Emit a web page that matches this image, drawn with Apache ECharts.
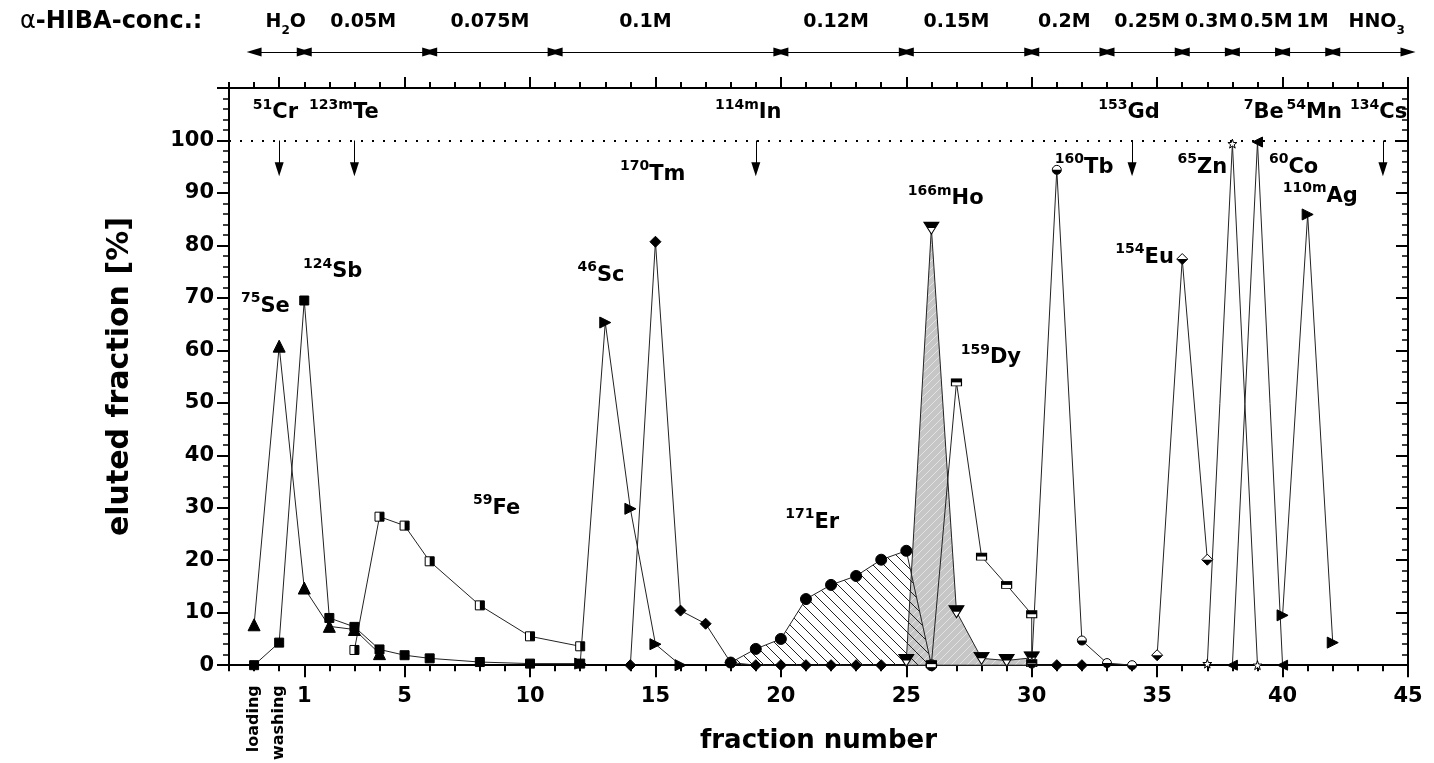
<!DOCTYPE html>
<html>
<head>
<meta charset="utf-8">
<title>alpha-HIBA elution</title>
<script src="https://cdn.jsdelivr.net/npm/echarts@6/dist/echarts.min.js"></script>
<style>
  html, body { margin: 0; padding: 0; background: #fff; }
  #chart { width: 1434px; height: 763px; }
</style>
</head>
<body>
<div id="chart"></div>
<script>
// eluted fraction [%] per fraction number (-1 = loading, 0 = washing)
const se75   = [[-1, 7.7], [0, 60.8], [1, 14.7], [2, 7.4], [3, 6.8], [4, 2.2]];
const sb124  = [[-1, 0], [0, 4.3], [1, 69.5], [2, 9.0], [3, 7.3], [4, 3.0], [5, 1.9], [6, 1.3], [8, 0.6], [10, 0.3], [12, 0.3]];
const fe59   = [[3, 2.9], [4, 28.3], [5, 26.6], [6, 19.8], [8, 11.4], [10, 5.5], [12, 3.6]];
const sc46   = [[12, 0.3], [13, 65.3], [14, 29.8], [15, 4.0], [16, 0]];
const tm170  = [[14, 0], [15, 80.7], [16, 10.4], [17, 7.9], [18, 0.5], [19, 0], [20, 0], [21, 0], [22, 0], [23, 0], [24, 0], [31, 0], [32, 0]];
const er171  = [[18, 0.5], [19, 3.1], [20, 5.0], [21, 12.6], [22, 15.3], [23, 17.0], [24, 20.1], [25, 21.8], [26, 0]];
const ho166m = [[25, 0.9], [26, 83.3], [27, 10.2], [28, 1.3], [29, 0.9], [30, 1.4]];
const dy159  = [[26, 0.2], [27, 53.9], [28, 20.7], [29, 15.3], [30, 9.7], [30, 0.4]];
const tb160  = [[30, 0.3], [31, 94.4], [32, 4.7], [33, 0.4], [34, 0]];
const eu154  = [[35, 1.9], [36, 77.4], [37, 20.1]];
const zn65   = [[37, 0.3], [38, 99.4], [39, 0]];
const co60   = [[38, 0], [39, 99.7], [40, 0]];
const ag110m = [[40, 9.5], [41, 85.9], [42, 4.3]];

// isotope labels
const isoSup  = ['51', '123m', '114m', '153', '7', '54', '134', '170', '160', '65', '60', '166m', '110m', '124', '75', '46', '154', '159', '59', '171'];
const isoName = ['Cr', 'Te', 'In', 'Gd', 'Be', 'Mn', 'Cs', 'Tm', 'Tb', 'Zn', 'Co', 'Ho', 'Ag', 'Sb', 'Se', 'Sc', 'Eu', 'Dy', 'Fe', 'Er'];
const isoX    = [-0.15, 2.58, 18.7, 33.88, 39.25, 41.26, 43.83, 14.89, 32.09, 36.8, 40.44, 26.57, 41.5, 2.13, -0.55, 12.83, 34.5, 28.37, 8.67, 21.25];
const isoY    = [106, 106, 106, 106, 106, 106, 106, 94.3, 95.6, 95.6, 95.6, 89.6, 90.1, 75.7, 69.2, 75.1, 78.4, 59.3, 30.7, 27.9];
// 100 % in one fraction (arrows)
const fullX = [0, 3, 19, 34, 44];

// alpha-HIBA concentration steps
const concBounds = [-1, 1, 6, 11, 20, 25, 30, 33, 36, 38, 40, 42, 45];
const concLabels = ['H{s|2}O', '0.05M', '0.075M', '0.1M', '0.12M', '0.15M', '0.2M', '0.25M', '0.3M', '0.5M', '1M', 'HNO{s|3}'];
const concLabelX = [0.26, 3.35, 8.4, 14.6, 22.2, 27.0, 31.3, 34.6, 37.15, 39.35, 41.2, 43.75];

const bottomTicks = [1, 5, 10, 15, 20, 25, 30, 35, 40, 45];
const topTicks = [0, 5, 10, 15, 20, 25, 30, 35, 40, 45];

const FONT = 'DejaVu Sans';

function hatch(bg, stroke, size, dir) {
  const c = document.createElement('canvas');
  c.width = size; c.height = size;
  const g = c.getContext('2d');
  if (bg) { g.fillStyle = bg; g.fillRect(0, 0, size, size); }
  g.strokeStyle = stroke;
  g.lineWidth = 1;
  g.beginPath();
  if (dir === '\\') { g.moveTo(-1, -1); g.lineTo(size + 1, size + 1); }
  else { g.moveTo(-1, size + 1); g.lineTo(size + 1, -1); }
  g.stroke();
  return c;
}

function curve(data, symbol, size, fill, extra) {
  return Object.assign({
    type: 'line', data: data, symbol: symbol, symbolSize: size,
    lineStyle: { color: '#222', width: 1 },
    itemStyle: { color: fill, borderColor: '#000', borderWidth: 1 },
    z: 3
  }, extra || {});
}

// black half of a half-filled marker, drawn on top of the hollow one
function half(data, symbol, size, offset) {
  return {
    type: 'scatter', data: data, symbol: symbol, symbolSize: size, symbolOffset: offset,
    itemStyle: { color: '#000', opacity: 1 }, silent: true, z: 4
  };
}

const tickLine = { color: '#000', width: 2 };
const noBorder = { textBorderWidth: 0, textBorderColor: 'transparent', textShadowBlur: 0 };

const chart = echarts.init(document.getElementById('chart'));

const option = {
  animation: false,
  textStyle: { fontFamily: FONT },
  graphic: [{
    type: 'text', left: 20, top: 10,
    style: {
      text: '{a|α}{b|-HIBA-conc.:}',
      rich: {
        a: { fontSize: 24, fontFamily: FONT, fontWeight: 'normal', fill: '#000' },
        b: { fontSize: 24, fontFamily: FONT, fontWeight: 'bold', fill: '#000' }
      }
    }
  }],
  grid: [
    { left: 229, right: 26, top: 88, bottom: 92 },
    { left: 229, right: 26, top: 40, height: 24 }
  ],
  xAxis: [
    { // bottom, long ticks + numbers
      gridIndex: 0, type: 'value', position: 'bottom', min: -2, max: 45,
      axisLine: { onZero: false, lineStyle: { color: '#000', width: 2 } },
      axisTick: { customValues: bottomTicks, length: 12, lineStyle: tickLine },
      axisLabel: { customValues: bottomTicks, color: '#000', fontSize: 21, fontWeight: 'bold', margin: 21 },
      splitLine: { show: false },
      name: 'fraction number', nameLocation: 'middle', nameGap: 63,
      nameTextStyle: { fontSize: 26, fontWeight: 'bold', color: '#000' }
    },
    { // bottom, short ticks
      gridIndex: 0, type: 'value', position: 'bottom', min: -2, max: 45, interval: 1,
      axisLine: { show: false, onZero: false },
      axisTick: { length: 6, lineStyle: tickLine },
      axisLabel: { show: false }, splitLine: { show: false }
    },
    { // loading / washing
      gridIndex: 0, type: 'value', position: 'bottom', min: -2, max: 45,
      axisLine: { show: false, onZero: false }, axisTick: { show: false },
      axisLabel: {
        customValues: [-1, 0], rotate: 90, margin: 20, color: '#000', fontSize: 16, fontWeight: 'bold',
        formatter: v => (v === -1 ? 'loading' : 'washing')
      },
      splitLine: { show: false }
    },
    { // top frame, long ticks
      gridIndex: 0, type: 'value', position: 'top', min: -2, max: 45,
      axisLine: { onZero: false, lineStyle: { color: '#000', width: 2 } },
      axisTick: { customValues: topTicks, length: 11, lineStyle: tickLine },
      axisLabel: { show: false }, splitLine: { show: false }
    },
    { // top frame, short ticks
      gridIndex: 0, type: 'value', position: 'top', min: -2, max: 45, interval: 1,
      axisLine: { show: false, onZero: false },
      axisTick: { length: 6, lineStyle: tickLine },
      axisLabel: { show: false }, splitLine: { show: false }
    },
    { gridIndex: 1, type: 'value', min: -2, max: 45, show: false }
  ],
  yAxis: [
    {
      gridIndex: 0, type: 'value', position: 'left', min: 0, max: 110, interval: 10,
      axisLine: { show: true, onZero: false, lineStyle: { color: '#000', width: 2 } },
      axisTick: { show: true, length: 12, lineStyle: tickLine },
      minorTick: { show: true, splitNumber: 5, length: 6, lineStyle: { color: '#000', width: 1.5 } },
      axisLabel: { color: '#000', fontSize: 21, fontWeight: 'bold', margin: 15, formatter: v => (v > 100 ? '' : v) },
      splitLine: { show: false },
      name: 'eluted fraction [%]', nameLocation: 'middle', nameGap: 94,
      nameTextStyle: { fontSize: 30, fontWeight: 'bold', color: '#000' }
    },
    {
      gridIndex: 0, type: 'value', position: 'right', min: 0, max: 110, interval: 10,
      axisLine: { show: true, onZero: false, lineStyle: { color: '#000', width: 2 } },
      axisTick: { show: true, inside: true, length: 12, lineStyle: tickLine },
      minorTick: { show: true, splitNumber: 5, length: 6, lineStyle: { color: '#000', width: 1.5 } },
      axisLabel: { show: false }, splitLine: { show: false }
    },
    { gridIndex: 1, type: 'value', min: 0, max: 1, show: false }
  ],
  series: [
    curve(ho166m, 'triangle', [15, 12], '#fff', {
      symbolRotate: 180, z: 2,
      areaStyle: { color: { image: hatch('#c6c6c6', '#e2e2e2', 8, '/'), repeat: 'repeat' }, opacity: 1 }
    }),
    curve(er171, 'circle', 11, '#000', {
      z: 2,
      areaStyle: { color: { image: hatch(null, '#222', 11, '\\'), repeat: 'repeat' }, opacity: 1 }
    }),
    curve(se75, 'triangle', 12, '#000'),
    curve(sb124, 'rect', 9, '#000'),
    curve(fe59, 'rect', 9, '#fff'),
    curve(sc46, 'triangle', 11, '#000', { symbolRotate: -90 }),
    curve(tm170, 'diamond', 11, '#000'),
    curve(dy159, 'rect', [10, 7], '#fff'),
    curve(tb160, 'circle', 9, '#fff'),
    curve(eu154, 'diamond', 11, '#fff'),
    curve(zn65, 'path://M5,0 L6.2,3.6 L10,3.6 L7,5.9 L8.1,9.5 L5,7.3 L1.9,9.5 L3,5.9 L0,3.6 L3.8,3.6 Z', 9, '#fff'),
    curve(co60, 'triangle', 10, '#000', { symbolRotate: 90 }),
    curve(ag110m, 'triangle', 11, '#000', { symbolRotate: -90 }),

    half(ho166m, 'path://M0,0 L10,0 L7.5,5 L2.5,5 Z', [15, 6], [0, -3]),
    half(dy159, 'rect', [10, 3.5], [0, -1.75]),
    half(tb160, 'path://M0,0 A5,5 0 0 0 10,0 Z', [9, 4.5], [0, 2.25]),
    half(eu154, 'path://M0,0 L10,0 L5,5 Z', [11, 5.5], [0, 2.75]),
    half(fe59, 'rect', [4.5, 9], [2.25, 0]),

    { // isotope names, 100 % line and arrows
      type: 'scatter', xAxisIndex: 0, yAxisIndex: 0,
      data: isoX.map((x, i) => [x, isoY[i]]),
      symbol: 'circle', symbolSize: 1, itemStyle: { color: 'transparent', opacity: 1 }, silent: true, z: 5,
      label: Object.assign({
        show: true, position: 'inside', offset: [0, 4], color: '#000',
        formatter: p => '{s|' + isoSup[p.dataIndex] + '}{m|' + isoName[p.dataIndex] + '}',
        rich: {
          s: Object.assign({ fontSize: 14, lineHeight: 14, verticalAlign: 'top', fontWeight: 'bold', fontFamily: FONT, color: '#000' }, noBorder),
          m: Object.assign({ fontSize: 21, lineHeight: 30, fontWeight: 'bold', fontFamily: FONT, color: '#000' }, noBorder)
        }
      }, noBorder),
      markLine: {
        silent: true, symbol: 'none', label: { show: false },
        data: [{ yAxis: 100, lineStyle: { color: '#000', type: [2, 9], width: 2 } }].concat(
          fullX.map(x => [
            { coord: [x, 100], symbol: 'none', lineStyle: { color: '#000', type: 'solid', width: 1 } },
            { coord: [x, 94.5], symbol: 'triangle', symbolSize: [9, 14] }
          ])
        )
      }
    },
    { // concentration header
      type: 'scatter', xAxisIndex: 5, yAxisIndex: 2,
      data: concLabelX.map(x => [x, 0.5]),
      symbol: 'circle', symbolSize: 1, itemStyle: { color: 'transparent', opacity: 1 }, silent: true,
      label: Object.assign({
        show: true, position: 'inside', offset: [0, -30], color: '#000',
        fontSize: 19, fontWeight: 'bold', fontFamily: FONT, lineHeight: 30,
        formatter: p => concLabels[p.dataIndex],
        rich: { s: Object.assign({ fontSize: 12, lineHeight: 8, verticalAlign: 'bottom', fontWeight: 'bold', fontFamily: FONT, color: '#000' }, noBorder) }
      }, noBorder),
      markLine: {
        silent: true, symbol: ['triangle', 'triangle'], symbolSize: [9, 15],
        label: { show: false },
        lineStyle: { color: '#000', type: 'solid', width: 1.2 },
        data: concBounds.slice(0, -1).map((b, i) => [{ coord: [b, 0.5] }, { coord: [concBounds[i + 1], 0.5] }])
      }
    }
  ]
};

chart.setOption(option);
</script>
</body>
</html>
